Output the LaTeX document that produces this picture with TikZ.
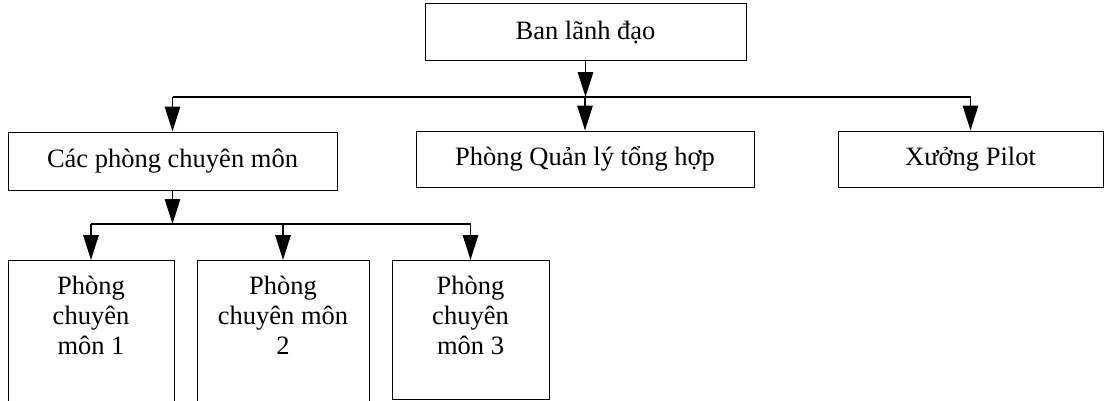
\documentclass[tikz,border=0pt]{standalone}
\usepackage{fontspec}
\setmainfont{Liberation Serif}
\usetikzlibrary{arrows.meta}
\begin{document}
\begin{tikzpicture}[x=1cm,y=1cm,
  box/.style={draw,line width=0.7pt,inner sep=0pt,font=\fontsize{18.85}{21.3}\selectfont},
  conn/.style={line width=1.4pt},
  arr/.style={conn,-{Triangle[length=0.62cm,width=0.38cm]}},
  txt/.style={align=center,anchor=north,inner sep=0pt,font=\fontsize{18.85}{21.3}\selectfont}]
      \useasboundingbox (0,0) rectangle (27.6,10.025);
      \node[box,minimum width=8.025cm,minimum height=1.425cm] (lead) at (14.6375,9.2125) {Ban lãnh đạo};
      \node[box,minimum width=8.225cm,minimum height=1.45cm] (cpcm) at (4.3125,6.0) {Các phòng chuyên môn};
      \node[box,minimum width=8.45cm,minimum height=1.4cm] (qlth) at (14.625,6.05) {Phòng Quản lý tổng hợp};
      \node[box,minimum width=6.625cm,minimum height=1.4cm] (pilot) at (24.2625,6.05) {Xưởng Pilot};
      \node[box,anchor=north,minimum width=4.15cm,minimum height=3.75cm] (p1) at (2.275,3.525) {};
      \node[box,anchor=north,minimum width=4.3cm,minimum height=3.75cm] (p2) at (7.075,3.525) {};
      \node[box,anchor=north,minimum width=3.925cm,minimum height=3.475cm] (p3) at (11.7625,3.525) {};
      \node[txt] (t1) at ([yshift=-0.39cm]p1.north) {Phòng\\chuyên\\môn 1};
      \node[txt] (t2) at ([yshift=-0.39cm]p2.north) {Phòng\\chuyên môn\\2};
      \node[txt] (t3) at ([yshift=-0.39cm]p3.north) {Phòng\\chuyên\\môn 3};
      \coordinate (bus) at (0,7.6);
      \coordinate (bus2) at (0,4.425);
      \draw[arr] (lead.south) -- (lead.south |- bus);
      \draw[conn] (cpcm.north |- bus) -- (pilot.north |- bus);
      \foreach \n in {cpcm,qlth,pilot} \draw[arr] (\n.north |- bus) -- (\n.north);
      \draw[arr] (cpcm.south) -- (cpcm.south |- bus2);
      \draw[conn] (p1.north |- bus2) -- (p3.north |- bus2);
      \foreach \n in {p1,p2,p3} \draw[arr] (\n.north |- bus2) -- (\n.north);
\end{tikzpicture}
\end{document}
